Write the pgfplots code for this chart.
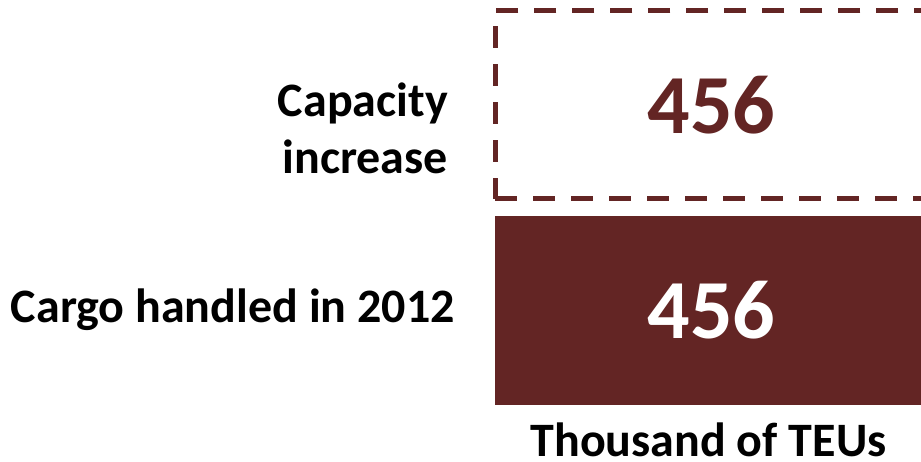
\documentclass[border=0pt]{standalone}
\usepackage{pgfplots}
\pgfplotsset{compat=1.18}
\usepackage{fontspec}
\setmainfont{Carlito}
\definecolor{barred}{RGB}{99,37,36}
\begin{document}
\begin{tikzpicture}
\begin{axis}[
  at={(0,0)}, anchor=south west,
  scale only axis, width=439.7pt, height=400pt,
  xmin=-5.8, xmax=460, ymin=-0.478, ymax=1.473,
  xbar, bar width=188pt, bar shift=0pt,
  axis line style={draw=none},
  xtick=\empty,
  ytick={0,0.888},
  yticklabels={{Cargo handled in 2012\hspace{-7pt}}, {Capacity\\increase}},
  major tick length=0pt,
  yticklabel style={align=right, anchor=east, inner sep=0pt, xshift=-42pt,
    font=\fontsize{48}{57}\selectfont\bfseries},
  xlabel={Thousand of TEUs},
  xlabel style={at={(axis description cs:0,0)}, anchor=north, inner sep=0pt,
    yshift=-15pt, xshift=218.5pt, font=\fontsize{48}{57}\selectfont\bfseries},
  point meta=x,
  nodes near coords,
  nodes near coords style={anchor=center, xshift=-214.5pt, inner sep=0pt,
    font=\fontsize{84}{90}\selectfont\bfseries,
    /pgf/number format/assume math mode=true},
]
\addplot[draw=barred, fill=white, line width=5pt, dash pattern=on 22pt off 16pt,
  nodes near coords style={text=barred, solid}] coordinates {(456,1)};
\addplot[draw=barred, fill=barred, line width=0.5pt,
  nodes near coords style={text=white}] coordinates {(456,0)};
\end{axis}
\pgfresetboundingbox
\path[use as bounding box] (-490pt,-54pt) rectangle (431pt,408pt);
\end{tikzpicture}
\end{document}
